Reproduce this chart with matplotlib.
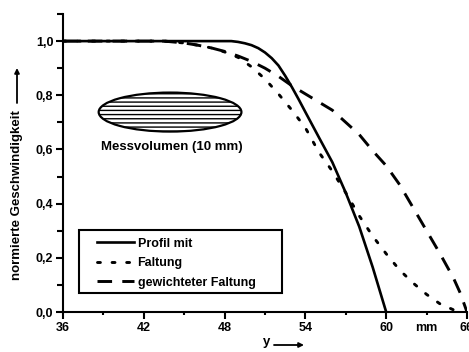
import matplotlib
matplotlib.use('Agg')
import matplotlib.pyplot as plt
from matplotlib.patches import Ellipse, Rectangle
from matplotlib.ticker import FixedLocator, FixedFormatter

plt.rcParams['font.family'] = ['Liberation Sans', 'DejaVu Sans']
plt.rcParams['font.weight'] = 'bold'
plt.rcParams['hatch.linewidth'] = 1.0

# profile (solid)
x_profil = [36, 48, 48.5, 49, 49.5, 50, 50.5, 51, 51.5, 52, 52.5, 53, 53.5, 54, 55, 56, 57, 58, 59, 60]
y_profil = [1.0, 1.0, 1.0, 0.997, 0.992, 0.985, 0.974, 0.958, 0.937, 0.91, 0.872, 0.83, 0.785, 0.738, 0.645, 0.553, 0.44, 0.315, 0.165, 0.0]

# convolution (dotted)
x_faltung = [36, 43.5, 45, 46, 47, 48, 49, 50, 51, 52, 53, 54, 55, 56, 57, 58, 59, 60, 61, 62, 63, 64, 65, 65.5]
y_faltung = [1.0, 1.0, 0.993, 0.985, 0.975, 0.96, 0.94, 0.905, 0.86, 0.805, 0.745, 0.68, 0.59, 0.52, 0.44, 0.355, 0.28, 0.215, 0.155, 0.107, 0.065, 0.03, 0.008, 0.0]

# weighted convolution (dashed)
x_gewichtet = [36, 43.5, 45, 46, 47, 48, 49, 50, 51, 52, 53, 54, 55, 56, 57, 58, 59, 60, 61, 62, 63, 64, 65, 65.5, 66]
y_gewichtet = [1.0, 1.0, 0.993, 0.985, 0.975, 0.962, 0.945, 0.925, 0.9, 0.87, 0.835, 0.805, 0.775, 0.745, 0.70, 0.655, 0.595, 0.54, 0.47, 0.385, 0.30, 0.215, 0.125, 0.07, 0.0]

labels = ['Profil mit', 'Faltung', 'gewichteter Faltung']

x_major = [36, 42, 48, 54, 60, 66]
x_major_labels = ['36', '42', '48', '54', '60', '66']
x_minor = [39, 45, 51, 57, 63]
x_minor_labels = ['', '', '', '', 'mm']
y_major = [0.0, 0.2, 0.4, 0.6, 0.8, 1.0]
y_major_labels = ['0,0', '0,2', '0,4', '0,6', '0,8', '1,0']
y_minor = [0.1, 0.3, 0.5, 0.7, 0.9, 1.1]

fig = plt.figure(figsize=(4.69, 3.52), dpi=100)
ax = fig.add_axes([0.1343, 0.1136, 0.8614, 0.8466])

ax.plot(x_profil, y_profil, color='black', lw=1.9, label=labels[0])
ax.plot(x_faltung, y_faltung, color='black', lw=2.1, linestyle=(0, (1, 4)),
        dash_capstyle='round', label=labels[1])
ax.plot(x_gewichtet, y_gewichtet, color='black', lw=2.1, linestyle=(0, (5, 3.5)),
        label=labels[2])

ax.set_xlim(36, 66)
ax.set_ylim(0, 1.1)

for s in ['top', 'right']:
    ax.spines[s].set_visible(False)
for s in ['left', 'bottom']:
    ax.spines[s].set_linewidth(1.5)

ax.xaxis.set_major_locator(FixedLocator(x_major))
ax.xaxis.set_major_formatter(FixedFormatter(x_major_labels))
ax.xaxis.set_minor_locator(FixedLocator(x_minor))
ax.xaxis.set_minor_formatter(FixedFormatter(x_minor_labels))
ax.yaxis.set_major_locator(FixedLocator(y_major))
ax.yaxis.set_major_formatter(FixedFormatter(y_major_labels))
ax.yaxis.set_minor_locator(FixedLocator(y_minor))

ax.tick_params(which='major', direction='out', length=5, width=1.5, labelsize=9, pad=2)
ax.tick_params(axis='y', which='minor', direction='out', length=4, width=1.5)
ax.tick_params(axis='x', which='minor', direction='out', length=2.5, width=1.5, labelsize=9, pad=4.5)
for t in ax.get_xticklabels() + ax.get_yticklabels() + ax.get_xticklabels(minor=True):
    t.set_fontweight('bold')

# measuring volume
ell = Ellipse((43.95, 0.738), 10.6, 0.144, facecolor='white', edgecolor='black',
              lw=1.6, hatch='----')
ax.add_patch(ell)
ax.text(44.1, 0.61, 'Messvolumen (10 mm)', ha='center', va='center', fontsize=9.5,
        fontweight='bold')

# legend with separate frame
ax.add_patch(Rectangle((0.0396, 0.0638), 0.502, 0.2114, transform=ax.transAxes,
                       fill=False, edgecolor='black', lw=1.5))
leg = ax.legend(loc='upper left', bbox_to_anchor=(0.084, 0.249), frameon=False,
                borderpad=0, borderaxespad=0, handlelength=3.0, handletextpad=0.25,
                labelspacing=0.6, prop={'size': 9, 'weight': 'bold'})

# axis labels with arrows
fig.text(17 / 469, 1 - 195 / 352, 'normierte Geschwindigkeit', rotation=90,
         ha='center', va='center', fontsize=9.5, fontweight='bold')
ax.annotate('', xy=(17 / 469, 1 - 68 / 352), xytext=(17 / 469, 1 - 103 / 352),
            xycoords='figure fraction', textcoords='figure fraction',
            arrowprops=dict(arrowstyle='-|>', color='black', lw=1.3,
                            mutation_scale=7, shrinkA=0, shrinkB=0))
fig.text(267 / 469, 1 - 342 / 352, 'y', ha='center', va='center', fontsize=9.5,
         fontweight='bold')
ax.annotate('', xy=(304 / 469, 1 - 345 / 352), xytext=(274 / 469, 1 - 345 / 352),
            xycoords='figure fraction', textcoords='figure fraction',
            arrowprops=dict(arrowstyle='-|>', color='black', lw=1.3,
                            mutation_scale=7, shrinkA=0, shrinkB=0))

fig.savefig('out.png', dpi=100)
